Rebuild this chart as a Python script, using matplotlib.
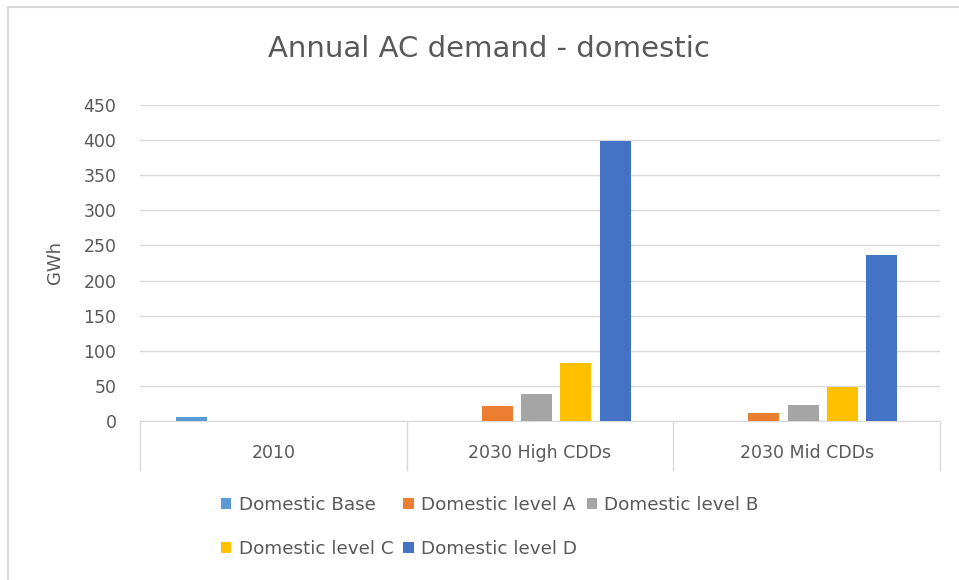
import matplotlib
matplotlib.use("Agg")
import matplotlib.pyplot as plt
from matplotlib.patches import Rectangle
import numpy as np

plt.rcParams['font.family'] = ['DejaVu Sans']

categories = ["2010", "2030 High CDDs", "2030 Mid CDDs"]
series_names = ["Domestic Base", "Domestic level A", "Domestic level B",
                "Domestic level C", "Domestic level D"]
domestic_base = [5, 0, 0]
level_a = [0, 21, 12]
level_b = [0, 39, 23]
level_c = [0, 83, 48]
level_d = [0, 399, 237]
series_values = [domestic_base, level_a, level_b, level_c, level_d]
colors = ["#5B9BD5", "#ED7D31", "#A5A5A5", "#FFC000", "#4472C4"]
yticks = [0, 50, 100, 150, 200, 250, 300, 350, 400, 450]

text_color = "#595959"
grid_color = "#D9D9D9"

fig = plt.figure(figsize=(9.59, 5.8), dpi=100)
ax = fig.add_axes([140 / 959, 1 - 421 / 580, 800 / 959, 316 / 580])

x = np.arange(len(categories))
bar_w = 0.117
step = 0.1475
shift = -0.013
handles = []
for i, (name, vals, c) in enumerate(zip(series_names, series_values, colors)):
    h = ax.bar(x + (i - 2) * step + shift, vals, width=bar_w, color=c,
               label=name, zorder=3)
    handles.append(h)

ax.set_xlim(-0.5, len(categories) - 0.5)
ax.set_ylim(0, 450)
ax.set_yticks(yticks)
ax.yaxis.grid(True, color=grid_color, linewidth=1, zorder=0)
ax.tick_params(axis='y', length=0, labelsize=12.5, labelcolor=text_color, pad=17)

ax.set_xticks(x)
ax.set_xticklabels(categories)
ax.tick_params(axis='x', which='major', length=0, labelsize=12.5,
               labelcolor=text_color, pad=16.5)
ax.set_xticks(np.arange(-0.5, len(categories), 1.0), minor=True)
ax.tick_params(axis='x', which='minor', length=36, color=grid_color,
               width=1, direction='out')

for side in ("left", "right", "top"):
    ax.spines[side].set_visible(False)
ax.spines["bottom"].set_color(grid_color)

ax.set_ylabel("GWh", fontsize=13, color=text_color, labelpad=14)

fig.text(489 / 959, 1 - 57 / 580, "Annual AC demand - domestic",
         ha='center', va='baseline', fontsize=21, color=text_color)

order = [0, 3, 1, 4, 2]
leg = fig.legend([handles[k] for k in order], [series_names[k] for k in order],
                 ncol=3, loc='center', bbox_to_anchor=(490 / 959, 1 - 527 / 580),
                 frameon=False, fontsize=13.2, labelcolor=text_color,
                 handlelength=0.55, handleheight=0.55, handletextpad=0.4,
                 columnspacing=0.55, labelspacing=1.45)

fig.patches.append(Rectangle((8 / 959, -0.1), 1.2, 1.1 - 7 / 580,
                             transform=fig.transFigure, fill=False,
                             edgecolor=grid_color, linewidth=1.5))

fig.savefig("out.png", dpi=100, facecolor="white")
